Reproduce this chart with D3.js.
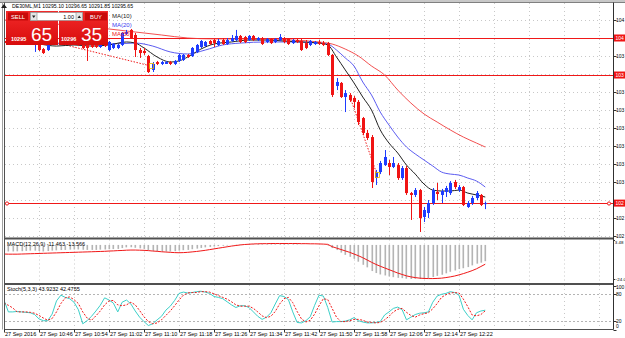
<!DOCTYPE html>
<html>
<head>
<meta charset="utf-8">
<script src="https://cdn.jsdelivr.net/npm/d3@7/dist/d3.min.js"></script>
<style>
  body { margin: 0; background: #fff; overflow: hidden; }
  text { font-family: "Liberation Sans", Arial, sans-serif; }
</style>
</head>
<body>
<div class="container"></div>
<script>
// ---- values (DE30 M1, 27 Sep 2016, bars 10:38 .. 12:28) ----
const opens = [10398.1,10396.8,10398.1,10397.5,10398.1,10397.5,10398.1,10395.6,10397.5,10393.0,
  10392.4,10396.2,10397.5,10397.5,10396.8,10396.2,10397.5,10398.1,10395.6,10395.6,
  10397.5,10397.5,10394.3,10396.8,10392.4,10393.7,10393.7,10395.6,10402.5,10405.1,
  10401.9,10392.4,10391.8,10388.6,10379.8,10384.8,10383.6,10383.6,10384.8,10383.6,
  10385.5,10386.1,10389.3,10388.6,10391.2,10394.3,10394.9,10398.1,10398.7,10395.6,
  10398.7,10396.2,10398.1,10398.7,10401.3,10400.6,10398.7,10401.3,10398.7,10400.0,
  10397.5,10399.4,10397.5,10398.7,10400.0,10399.4,10396.8,10398.7,10398.1,10396.8,
  10395.6,10396.2,10397.5,10396.8,10396.8,10389.3,10369.7,10371.6,10362.7,10364.0,
  10362.1,10359.6,10349.4,10340.0,10337.4,10311.5,10315.3,10319.7,10321.0,10318.5,
  10319.7,10311.5,10317.8,10302.0,10300.8,10303.9,10286.9,10289.4,10295.7,10302.7,
  10300.8,10302.7,10302.0,10309.0,10303.9,10305.8,10293.2,10295.7,10298.9,10300.8,
  10295.10];
const highs = [10399.4,10398.7,10399.4,10398.7,10399.4,10400.0,10400.0,10398.1,10398.1,10393.7,
  10397.5,10398.1,10398.1,10398.1,10397.5,10397.5,10398.1,10398.7,10396.2,10396.8,
  10398.1,10398.1,10398.1,10397.5,10398.1,10396.8,10396.2,10403.8,10405.1,10405.7,
  10403.2,10393.7,10393.7,10389.3,10384.8,10385.5,10385.5,10385.5,10385.5,10386.1,
  10389.9,10389.9,10389.9,10394.3,10396.2,10398.7,10398.1,10398.7,10399.4,10399.4,
  10400.0,10400.0,10401.9,10405.1,10401.9,10401.3,10401.9,10401.9,10400.6,10400.6,
  10400.0,10400.0,10400.0,10402.5,10400.6,10400.0,10399.4,10399.4,10400.0,10398.7,
  10398.7,10398.1,10398.7,10398.1,10397.5,10389.9,10374.7,10372.2,10367.1,10365.2,
  10363.3,10360.8,10350.1,10341.9,10338.7,10316.6,10322.3,10329.2,10322.9,10324.8,
  10321.0,10319.1,10319.1,10302.7,10305.2,10304.6,10293.2,10297.6,10305.2,10308.4,
  10304.6,10306.5,10309.6,10310.3,10307.1,10306.5,10297.0,10300.2,10303.3,10301.4,
  10296.65];
const lows = [10396.2,10396.2,10396.2,10395.6,10396.2,10396.8,10396.8,10391.2,10391.8,10389.9,
  10391.8,10395.6,10396.2,10395.6,10395.6,10395.6,10395.6,10394.9,10393.0,10385.5,
  10393.7,10393.7,10393.7,10394.3,10391.8,10393.0,10393.0,10394.9,10401.9,10399.4,
  10388.0,10387.4,10389.3,10377.9,10378.5,10382.9,10382.9,10383.6,10382.9,10382.9,
  10384.8,10385.5,10387.4,10388.0,10390.5,10393.7,10394.3,10395.6,10394.3,10394.9,
  10395.6,10395.6,10397.5,10398.1,10396.8,10396.8,10398.1,10398.1,10398.1,10395.6,
  10396.8,10396.2,10396.8,10398.1,10396.8,10395.6,10396.2,10396.8,10391.8,10393.0,
  10394.9,10395.6,10395.6,10394.9,10388.6,10362.7,10367.1,10362.1,10353.2,10359.6,
  10355.8,10345.0,10338.7,10335.5,10305.2,10307.1,10314.0,10319.1,10313.4,10317.8,
  10310.3,10310.3,10300.8,10285.0,10299.5,10277.4,10283.7,10286.2,10294.5,10297.6,
  10295.7,10299.5,10300.8,10304.6,10302.7,10293.8,10292.6,10294.5,10297.6,10293.8,
  10291.85];
const closes = [10396.8,10398.1,10396.8,10396.8,10397.5,10398.7,10398.7,10396.8,10392.4,10390.5,
  10396.8,10397.5,10396.8,10396.2,10396.2,10396.8,10396.2,10395.6,10393.7,10393.7,
  10394.3,10394.3,10397.5,10394.9,10397.5,10396.2,10395.6,10403.2,10403.8,10400.0,
  10392.4,10390.5,10390.5,10378.5,10383.6,10383.6,10384.8,10384.8,10383.6,10385.5,
  10389.3,10389.3,10388.0,10393.7,10395.6,10398.1,10397.5,10396.2,10396.8,10398.1,
  10396.2,10398.7,10400.0,10401.3,10397.5,10397.5,10401.3,10398.7,10400.0,10396.2,
  10399.4,10396.8,10399.4,10400.6,10397.5,10396.2,10398.7,10397.5,10392.4,10393.7,
  10398.1,10397.5,10396.2,10395.6,10389.3,10364.0,10372.2,10362.7,10365.2,10360.8,
  10359.6,10346.9,10340.0,10336.8,10309.0,10315.3,10321.0,10324.8,10318.5,10321.0,
  10311.5,10317.8,10302.0,10300.8,10303.9,10286.2,10291.3,10295.7,10303.9,10301.4,
  10303.3,10305.2,10308.4,10305.8,10305.8,10294.5,10295.7,10298.9,10302.0,10294.5,
  10295.65];

// moving averages, read at a set of bars
const ma10Bars = [0,4,8,12,16,20,24,28,30,32,35,38,40,42,45,48,52,56,60,64,68,72,74,76,78,80,82,84,86,88,90,92,94,96,98,100,102,104,106,108,110];
const ma10 = [10397.5,10397.5,10396.2,10394.9,10395.6,10394.9,10395.6,10397.5,10396.8,10393.7,10388.0,10384.8,10385.5,10388.0,10393.0,10396.2,10397.5,10398.7,10398.7,10398.1,10397.5,10396.8,10395.6,10388.0,10379.8,10371.6,10362.7,10354.5,10341.9,10333.6,10327.3,10319.7,10314.0,10307.7,10303.9,10303.3,10303.3,10303.9,10302.0,10300.8,10299.5];
const ma20Bars = [0,8,16,24,30,34,38,42,46,50,54,60,66,72,74,76,78,80,82,84,86,88,90,92,94,96,98,100,102,104,106,108,110];
const ma20 = [10397.5,10396.8,10396.2,10396.2,10396.8,10394.9,10391.2,10389.9,10392.4,10395.6,10396.8,10397.5,10397.5,10396.8,10396.2,10392.4,10387.4,10382.3,10372.2,10364.0,10353.2,10345.0,10337.4,10331.1,10326.7,10322.9,10319.1,10315.3,10314.0,10313.4,10311.5,10309.6,10305.8];
const ma50Bars = [0,12,24,30,36,42,48,54,60,66,72,75,78,81,84,87,90,93,96,99,102,105,108,110];
const ma50 = [10411.4,10408.8,10405.7,10403.8,10401.9,10400.0,10399.4,10399.4,10399.4,10398.7,10397.5,10396.2,10393.0,10388.6,10382.3,10376.6,10367.1,10358.9,10352.0,10346.9,10341.9,10337.4,10333.6,10331.1];

// MACD(12,26,9): histogram (main) and signal
const macdMain = [-4.5,-4.6,-4.6,-4.5,-4.4,-4.2,-4.0,-4.0,-4.3,-4.6,
  -4.3,-4.0,-3.8,-3.6,-3.5,-3.3,-3.2,-3.2,-3.4,-3.5,
  -3.5,-3.5,-3.3,-3.2,-3.0,-2.9,-2.8,-2.2,-1.7,-1.6,
  -2.0,-2.4,-2.8,-3.8,-4.2,-4.5,-4.6,-4.6,-4.6,-4.4,
  -4.0,-3.7,-3.5,-3.0,-2.6,-2.1,-1.7,-1.4,-1.1,-0.8,
  -0.6,-0.4,-0.1,0.2,0.3,0.3,0.4,0.4,0.5,0.4,
  0.4,0.4,0.4,0.5,0.5,0.4,0.4,0.4,0.1,0.0,
  0.0,0.0,0.0,-0.1,-0.5,-2.2,-3.6,-5.4,-7.0,-8.4,
  -9.8,-11.8,-14.0,-15.8,-18.4,-19.8,-20.8,-21.5,-22.2,-22.7,
  -23.2,-23.4,-23.8,-24.0,-23.9,-24.0,-23.9,-23.4,-22.6,-21.8,
  -21.0,-20.0,-18.9,-18.0,-17.0,-16.4,-15.6,-14.4,-13.2,-12.5,
  -11.463];
const macdSignal = [-6.4,-6.5,-6.5,-6.5,-6.4,-6.3,-6.2,-6.1,-6.0,-5.9,
  -5.8,-5.7,-5.6,-5.5,-5.4,-5.3,-5.2,-5.1,-5.0,-4.9,
  -4.8,-4.7,-4.6,-4.5,-4.3,-4.2,-4.0,-3.9,-3.7,-3.6,
  -3.6,-3.7,-3.8,-4.0,-4.3,-4.5,-4.8,-5.0,-5.2,-5.4,
  -5.5,-5.4,-5.2,-4.9,-4.6,-4.2,-3.8,-3.3,-2.8,-2.3,
  -1.8,-1.3,-0.8,-0.4,0.0,0.3,0.5,0.7,0.8,0.9,
  0.9,1.0,1.0,1.0,1.0,1.0,1.0,1.0,0.9,0.9,
  0.8,0.8,0.7,0.6,0.4,-1.2,-2.2,-3.2,-4.2,-5.2,
  -6.4,-7.6,-9.0,-10.6,-12.2,-13.7,-15.0,-16.2,-17.4,-18.6,
  -19.8,-20.8,-21.8,-22.5,-23.0,-23.4,-23.6,-23.7,-23.7,-23.6,
  -23.4,-23.0,-22.5,-21.9,-21.1,-20.2,-19.2,-18.1,-16.8,-15.2,
  -13.566];

// Stochastic(5,3,3)
const stochMain = [67,40,40,41,40,39,38,34,24,20,
  20,35,65,78,73,70,62,45,13,20,
  30,42,55,72,67,60,40,62,67,58,
  42,28,18,9,13,22,30,44,53,66,
  82,85,83,84,86,87,85,82,75,73,
  70,63,56,50,54,54,50,40,30,23,
  28,38,58,77,75,68,40,16,15,20,
  29,55,78,76,50,17,18,18,19,22,
  27,20,17,15,15,16,18,33,40,48,
  51,45,22,28,34,37,38,40,62,76,
  80,82,86,84,78,46,32,22,38,42,
  43.9232];
const stochSignal = [60,55,49,40,40,40,39,37,32,26,
  21,25,40,59,72,74,68,59,40,26,
  21,31,42,56,65,66,56,54,56,62,
  56,43,29,18,13,15,22,32,42,54,
  67,78,83,84,84,86,86,85,81,77,
  73,69,63,56,53,53,53,48,40,31,
  27,30,41,58,70,73,61,41,24,17,
  21,35,54,70,68,48,28,18,18,20,
  23,23,21,17,16,15,16,22,30,40,
  46,48,39,32,28,33,36,38,47,59,
  73,79,83,84,83,69,52,33,31,34,
  42.4755];

// price axis, horizontal lines, trades, time labels
const priceTicks = [10411.40,10400.00,10388.60,10377.20,10365.80,10354.40,10343.00,10331.60,10320.20,10308.80,10297.40,10286.00,10274.60];
const hLines = [10400.00, 10376.60];
const tradeFrom = [[12.3, 10396.8], [79.1, 10362.7]];
const tradeTo = [[33.6, 10382.3], [85.3, 10313.4]];
const timeLabels = ["27 Sep 2016","27 Sep 10:46","27 Sep 10:54","27 Sep 11:02","27 Sep 11:10","27 Sep 11:18","27 Sep 11:26",
  "27 Sep 11:34","27 Sep 11:42","27 Sep 11:50","27 Sep 11:58","27 Sep 12:06","27 Sep 12:14","27 Sep 12:22"];
const macdTicks = [3.48, -24.0];
const stochTicks = [100, 80, 20, 0];
const stochLevels = [80, 20];

// ---- layout ----
const width = 625, height = 338;
const axisX = 613.5;
const main = {top: 3, bottom: 237.5};
const macdPane = {top: 239.5, bottom: 283};
const stochPane = {top: 285, bottom: 329.5};

const svg = d3.select(".container").append("svg")
  .attr("width", width).attr("height", height)
  .style("display", "block");

const x = d3.scaleLinear().domain([0, 110]).range([4, 485.25]);
const yMain = d3.scaleLinear().domain([10295.72, 10400]).range([203, 38]);
const yMacd = d3.scaleLinear().domain([-24, 3.48]).range([279, 240]);
const yStoch = d3.scaleLinear().domain([0, 100]).range([329.5, 285.5]);
const px = i => Math.round(x(i)) + 0.5;
const crisp = v => Math.round(v) + 0.5;

svg.append("rect").attr("width", width).attr("height", height).attr("fill", "#fff");

// clip paths per pane
const defs = svg.append("defs");
[["cMain", main], ["cMacd", macdPane], ["cStoch", stochPane]].forEach(([id, p]) => {
  defs.append("clipPath").attr("id", id).append("rect")
    .attr("x", 5).attr("y", p.top).attr("width", axisX - 5).attr("height", p.bottom - p.top);
});

// vertical grid (every 8 bars) in all panes
const gridIdx = d3.range(0, 140, 8).filter(i => x(i) < axisX - 2);
[main, macdPane, stochPane].forEach(p => {
  svg.append("g").selectAll("line").data(gridIdx).enter().append("line")
    .attr("x1", d => px(d)).attr("x2", d => px(d))
    .attr("y1", p.top).attr("y2", p.bottom)
    .attr("stroke", "#c8c8c8").attr("stroke-dasharray", "1,3");
});

// horizontal grid in main pane
svg.append("g").selectAll("line").data(priceTicks).enter().append("line")
  .attr("x1", 5).attr("x2", axisX)
  .attr("y1", d => crisp(yMain(d))).attr("y2", d => crisp(yMain(d)))
  .attr("stroke", "#c8c8c8").attr("stroke-dasharray", "1,3");

// ---- main pane ----
const gMain = svg.append("g").attr("clip-path", "url(#cMain)");

// horizontal line objects
gMain.selectAll(".hl").data(hLines).enter().append("line")
  .attr("x1", 5).attr("x2", axisX)
  .attr("y1", d => crisp(yMain(d))).attr("y2", d => crisp(yMain(d)))
  .attr("stroke", "#f01818");

// bid line
const bid = closes[closes.length - 1];
gMain.append("line").attr("x1", 5).attr("x2", axisX)
  .attr("y1", crisp(yMain(bid))).attr("y2", crisp(yMain(bid)))
  .attr("stroke", "#f01818");
gMain.append("circle").attr("cx", 7).attr("cy", crisp(yMain(bid))).attr("r", 1.6)
  .attr("fill", "#fff").attr("stroke", "#f01818");
gMain.append("circle").attr("cx", 609).attr("cy", crisp(yMain(bid))).attr("r", 1.6)
  .attr("fill", "#fff").attr("stroke", "#f01818");

// trade history lines
gMain.selectAll(".trade").data(tradeFrom).enter().append("line")
  .attr("x1", d => x(d[0])).attr("y1", d => yMain(d[1]))
  .attr("x2", (d, k) => x(tradeTo[k][0])).attr("y2", (d, k) => yMain(tradeTo[k][1]))
  .attr("stroke", "#f01818").attr("stroke-dasharray", "1.5,1.5");

// moving averages
const maLine = d3.line().x(d => x(d[0])).y(d => yMain(d[1])).curve(d3.curveMonotoneX);
gMain.append("path").attr("d", maLine(ma50Bars.map((b, k) => [b, ma50[k]])))
  .attr("fill", "none").attr("stroke", "#f03c3c").attr("stroke-width", 0.9);
gMain.append("path").attr("d", maLine(ma20Bars.map((b, k) => [b, ma20[k]])))
  .attr("fill", "none").attr("stroke", "#5c5cf0").attr("stroke-width", 1);
gMain.append("path").attr("d", maLine(ma10Bars.map((b, k) => [b, ma10[k]])))
  .attr("fill", "none").attr("stroke", "#222").attr("stroke-width", 1);

// candles
const bars = opens.map((o, i) => ({i, o, h: highs[i], l: lows[i], c: closes[i]}));
const colorOf = d => d.c >= d.o ? "#1e3cff" : "#f01414";
const candle = gMain.append("g").selectAll("g").data(bars).enter().append("g");
candle.append("line")
  .attr("x1", d => px(d.i)).attr("x2", d => px(d.i))
  .attr("y1", d => yMain(d.h)).attr("y2", d => yMain(d.l))
  .attr("stroke", colorOf);
candle.append("rect")
  .attr("x", d => Math.round(x(d.i)) - 1)
  .attr("width", 3)
  .attr("y", d => yMain(Math.max(d.o, d.c)))
  .attr("height", d => Math.max(1, yMain(Math.min(d.o, d.c)) - yMain(Math.max(d.o, d.c))))
  .attr("fill", colorOf);

// trade close markers
gMain.selectAll(".mk").data(tradeTo).enter().append("rect")
  .attr("x", d => Math.round(x(d[0])) - 1.5).attr("y", d => yMain(d[1]) - 2.5)
  .attr("width", 4).attr("height", 5)
  .attr("fill", "none").attr("stroke", "#e8b800").attr("stroke-width", 0.8);

// ---- MACD pane ----
const gMacd = svg.append("g").attr("clip-path", "url(#cMacd)");
gMacd.selectAll("rect").data(macdMain).enter().append("rect")
  .attr("x", (d, i) => Math.round(x(i)) - 0.5)
  .attr("width", 1.6)
  .attr("y", d => Math.min(yMacd(d), yMacd(0)))
  .attr("height", d => Math.abs(yMacd(d) - yMacd(0)))
  .attr("fill", "#b4b4b4");
gMacd.append("path")
  .attr("d", d3.line().x((d, i) => x(i)).y(d => yMacd(d))(macdSignal))
  .attr("fill", "none").attr("stroke", "#f01818").attr("stroke-width", 1);

// ---- Stochastic pane ----
const gSt = svg.append("g").attr("clip-path", "url(#cStoch)");
gSt.selectAll("line").data(stochLevels).enter().append("line")
  .attr("x1", 5).attr("x2", axisX)
  .attr("y1", d => crisp(yStoch(d))).attr("y2", d => crisp(yStoch(d)))
  .attr("stroke", "#b4b4b4").attr("stroke-dasharray", "2,2");
gSt.append("path")
  .attr("d", d3.line().x((d, i) => x(i)).y(d => yStoch(d))(stochMain))
  .attr("fill", "none").attr("stroke", "#3ccfc8").attr("stroke-width", 1);
gSt.append("path")
  .attr("d", d3.line().x((d, i) => x(i)).y(d => yStoch(d))(stochSignal))
  .attr("fill", "none").attr("stroke", "#f01818").attr("stroke-width", 1)
  .attr("stroke-dasharray", "2,1.5");

// ---- frames and separators ----
svg.append("rect").attr("x", 0).attr("y", 0).attr("width", width).attr("height", 2.5).attr("fill", "#c8c8c8");
svg.append("line").attr("x1", 0).attr("x2", width).attr("y1", 2.5).attr("y2", 2.5).attr("stroke", "#808080");
svg.append("line").attr("x1", 2.5).attr("x2", 2.5).attr("y1", 2.5).attr("y2", stochPane.bottom).attr("stroke", "#a0a0a0");
svg.append("line").attr("x1", 4.5).attr("x2", 4.5).attr("y1", 2.5).attr("y2", stochPane.bottom).attr("stroke", "#505050");
svg.append("rect").attr("x", 4).attr("y", 237.5).attr("width", axisX - 4).attr("height", 2).attr("fill", "#505050");
svg.append("rect").attr("x", 4).attr("y", 283).attr("width", axisX - 4).attr("height", 2).attr("fill", "#505050");
svg.append("line").attr("x1", 4).attr("x2", axisX).attr("y1", stochPane.bottom).attr("y2", stochPane.bottom).attr("stroke", "#505050");
svg.append("line").attr("x1", axisX).attr("x2", axisX).attr("y1", 2.5).attr("y2", stochPane.bottom).attr("stroke", "#303030");

// ---- right axis (the window edge leaves room for only the first digits) ----
const fs = 5.5, afs = 5;
const priceText = d => d3.format(".2f")(d).slice(0, 3);
const tags = hLines.concat([bid]);
const freeTicks = priceTicks.filter(t => tags.every(g => Math.abs(yMain(t) - yMain(g)) > 6));
const axisG = svg.append("g");
axisG.selectAll("line").data(priceTicks).enter().append("line")
  .attr("x1", axisX).attr("x2", axisX + 3)
  .attr("y1", d => crisp(yMain(d))).attr("y2", d => crisp(yMain(d))).attr("stroke", "#303030");
axisG.selectAll("text").data(freeTicks).enter().append("text")
  .attr("x", 616).attr("y", d => yMain(d) + 1.8).attr("font-size", afs)
  .text(priceText);

// red price tags for the line objects and bid
const tagG = svg.append("g").selectAll("g").data(tags).enter().append("g");
tagG.append("rect").attr("x", 614).attr("y", d => yMain(d) - 3.5).attr("width", 11).attr("height", 7).attr("fill", "#f01414");
tagG.append("text").attr("x", 615.5).attr("y", d => yMain(d) + 1.8).attr("font-size", afs).attr("fill", "#fff")
  .text(priceText);

svg.append("g").selectAll("text").data(macdTicks).enter().append("text")
  .attr("x", 614.8).attr("y", d => Math.min(280.5, Math.max(244, yMacd(d) + 1.8))).attr("font-size", 4.4)
  .text(d => d3.format(".2f")(d).slice(0, d < 0 ? 5 : 4));
svg.append("g").selectAll("line").data(macdTicks).enter().append("line")
  .attr("x1", axisX).attr("x2", axisX + 1.5).attr("y1", d => crisp(yMacd(d))).attr("y2", d => crisp(yMacd(d))).attr("stroke", "#303030");

svg.append("g").selectAll("text").data(stochTicks).enter().append("text")
  .attr("x", 616).attr("y", d => Math.min(327.5, Math.max(289, yStoch(d) + 1.8))).attr("font-size", afs)
  .text(d => d);
svg.append("g").selectAll("line").data(stochTicks).enter().append("line")
  .attr("x1", axisX).attr("x2", axisX + 3).attr("y1", d => crisp(yStoch(d))).attr("y2", d => crisp(yStoch(d))).attr("stroke", "#303030");

// ---- time axis ----
const tG = svg.append("g").selectAll("g").data(timeLabels).enter().append("g");
tG.append("line").attr("x1", (d, k) => px(k * 8)).attr("x2", (d, k) => px(k * 8))
  .attr("y1", stochPane.bottom).attr("y2", stochPane.bottom + 3).attr("stroke", "#303030");
tG.append("text").attr("x", (d, k) => x(k * 8) + 1).attr("y", 336).attr("font-size", fs).text(d => d);

// ---- indicator captions ----
svg.append("text").attr("x", 7).attr("y", 246).attr("font-size", fs)
  .text("MACD(12,26,9) " + macdMain[macdMain.length - 1] + " " + macdSignal[macdSignal.length - 1]);
svg.append("text").attr("x", 7).attr("y", 291).attr("font-size", fs)
  .text("Stoch(5,3,3) " + stochMain[stochMain.length - 1] + " " + stochSignal[stochSignal.length - 1]);

// ---- chart title and MA legend ----
svg.append("path").attr("d", "M1,8 L4,4 L7,8 Z").attr("fill", "#202020");
svg.append("text").attr("x", 12).attr("y", 8).attr("font-size", 5.2)
  .text("DE30ML,M1  " + [opens, highs, lows, closes].map(a => d3.format(".2f")(a[a.length - 1])).join(" "));
const maLegend = [["MA(10)", "#222"], ["MA(20)", "#4040f0"], ["MA(50)", "#f01818"]];
svg.append("g").selectAll("text").data(maLegend).enter().append("text")
  .attr("x", 112).attr("y", (d, k) => 18 + k * 9).attr("font-size", 6)
  .attr("fill", d => d[1]).text(d => d[0]);

// ---- one-click trading panel ----
const panel = svg.append("g");
const redGrad = defs.append("linearGradient").attr("id", "redG").attr("x1", 0).attr("y1", 0).attr("x2", 0).attr("y2", 1);
redGrad.append("stop").attr("offset", 0).attr("stop-color", "#f22a2a");
redGrad.append("stop").attr("offset", 1).attr("stop-color", "#d80c0c");
panel.append("rect").attr("x", 6).attr("y", 11).attr("width", 52).attr("height", 34).attr("fill", "url(#redG)");
panel.append("rect").attr("x", 59).attr("y", 11).attr("width", 49).attr("height", 34).attr("fill", "url(#redG)");
panel.append("rect").attr("x", 8).attr("y", 12.5).attr("width", 20).attr("height", 8).attr("fill", "#c80a0a");
panel.append("rect").attr("x", 85).attr("y", 12.5).attr("width", 22).attr("height", 8).attr("fill", "#c80a0a");
panel.append("text").attr("x", 18).attr("y", 18.8).attr("font-size", 5.8).attr("fill", "#fff").attr("text-anchor", "middle").text("SELL");
panel.append("text").attr("x", 96).attr("y", 18.8).attr("font-size", 5.8).attr("fill", "#fff").attr("text-anchor", "middle").text("BUY");
panel.append("rect").attr("x", 30.5).attr("y", 12.5).attr("width", 52).attr("height", 8).attr("fill", "#fff").attr("stroke", "#8a8a8a").attr("stroke-width", 0.6);
panel.append("rect").attr("x", 30.5).attr("y", 12.5).attr("width", 6.5).attr("height", 8).attr("fill", "#e4e4e4").attr("stroke", "#8a8a8a").attr("stroke-width", 0.6);
panel.append("rect").attr("x", 76).attr("y", 12.5).attr("width", 6.5).attr("height", 8).attr("fill", "#e4e4e4").attr("stroke", "#8a8a8a").attr("stroke-width", 0.6);
panel.append("path").attr("d", "M32,15.5 L35.5,15.5 L33.75,18 Z").attr("fill", "#202020");
panel.append("path").attr("d", "M77.5,18 L81,18 L79.25,15.5 Z").attr("fill", "#202020");
panel.append("text").attr("x", 74).attr("y", 18.8).attr("font-size", 5.5).attr("text-anchor", "end").text("1.00");
panel.append("text").attr("x", 11).attr("y", 41).attr("font-size", 5.5).attr("font-weight", "bold").attr("fill", "#fff").text("10295");
panel.append("text").attr("x", 31).attr("y", 41).attr("font-size", 19).attr("fill", "#fff").text("65");
panel.append("text").attr("x", 61).attr("y", 41).attr("font-size", 5.5).attr("font-weight", "bold").attr("fill", "#fff").text("10296");
panel.append("text").attr("x", 81).attr("y", 41).attr("font-size", 19).attr("fill", "#fff").text("35");
</script>
</body>
</html>
